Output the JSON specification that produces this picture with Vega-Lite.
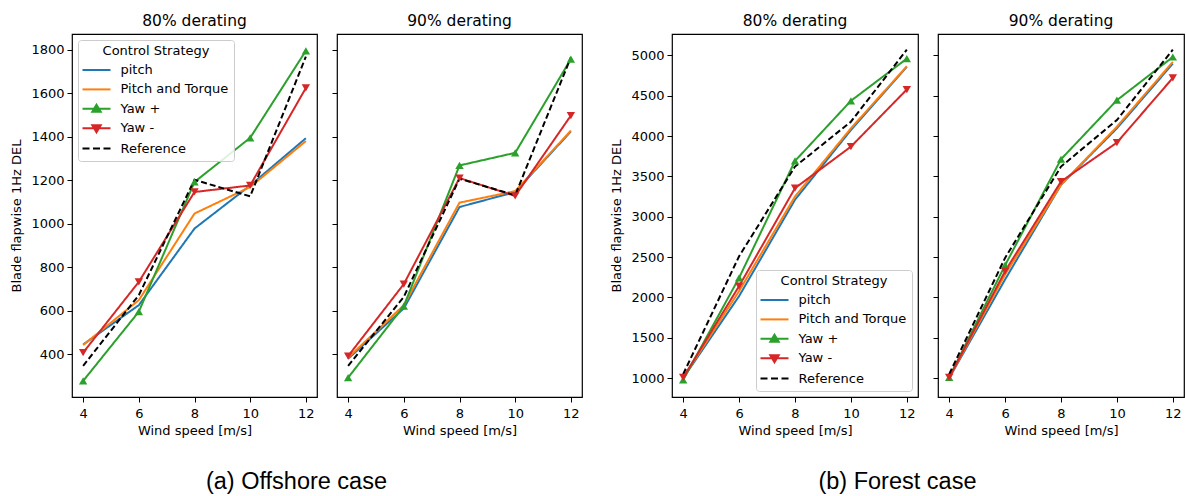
{
  "$schema": "https://vega.github.io/schema/vega-lite/v6.json",
  "padding": {"left": 10, "top": 13, "right": 0, "bottom": 0},
  "datasets": {
    "d": [
      {"case": "offshore", "derating": 80, "strategy": "pitch", "wind": 4, "del": 445},
      {"case": "offshore", "derating": 80, "strategy": "pitch", "wind": 6, "del": 626},
      {"case": "offshore", "derating": 80, "strategy": "pitch", "wind": 8, "del": 978},
      {"case": "offshore", "derating": 80, "strategy": "pitch", "wind": 10, "del": 1176},
      {"case": "offshore", "derating": 80, "strategy": "pitch", "wind": 12, "del": 1393},
      {"case": "offshore", "derating": 80, "strategy": "Pitch and Torque", "wind": 4, "del": 443},
      {"case": "offshore", "derating": 80, "strategy": "Pitch and Torque", "wind": 6, "del": 649},
      {"case": "offshore", "derating": 80, "strategy": "Pitch and Torque", "wind": 8, "del": 1047},
      {"case": "offshore", "derating": 80, "strategy": "Pitch and Torque", "wind": 10, "del": 1169},
      {"case": "offshore", "derating": 80, "strategy": "Pitch and Torque", "wind": 12, "del": 1380},
      {"case": "offshore", "derating": 80, "strategy": "Yaw +", "wind": 4, "del": 278},
      {"case": "offshore", "derating": 80, "strategy": "Yaw +", "wind": 6, "del": 596},
      {"case": "offshore", "derating": 80, "strategy": "Yaw +", "wind": 8, "del": 1192},
      {"case": "offshore", "derating": 80, "strategy": "Yaw +", "wind": 10, "del": 1395},
      {"case": "offshore", "derating": 80, "strategy": "Yaw +", "wind": 12, "del": 1795},
      {"case": "offshore", "derating": 80, "strategy": "Yaw -", "wind": 4, "del": 408},
      {"case": "offshore", "derating": 80, "strategy": "Yaw -", "wind": 6, "del": 733},
      {"case": "offshore", "derating": 80, "strategy": "Yaw -", "wind": 8, "del": 1146},
      {"case": "offshore", "derating": 80, "strategy": "Yaw -", "wind": 10, "del": 1176},
      {"case": "offshore", "derating": 80, "strategy": "Yaw -", "wind": 12, "del": 1624},
      {"case": "offshore", "derating": 80, "strategy": "Reference", "wind": 4, "del": 347},
      {"case": "offshore", "derating": 80, "strategy": "Reference", "wind": 6, "del": 672},
      {"case": "offshore", "derating": 80, "strategy": "Reference", "wind": 8, "del": 1202},
      {"case": "offshore", "derating": 80, "strategy": "Reference", "wind": 10, "del": 1126},
      {"case": "offshore", "derating": 80, "strategy": "Reference", "wind": 12, "del": 1768},

      {"case": "offshore", "derating": 90, "strategy": "pitch", "wind": 4, "del": 380},
      {"case": "offshore", "derating": 90, "strategy": "pitch", "wind": 6, "del": 611},
      {"case": "offshore", "derating": 90, "strategy": "pitch", "wind": 8, "del": 1077},
      {"case": "offshore", "derating": 90, "strategy": "pitch", "wind": 10, "del": 1146},
      {"case": "offshore", "derating": 90, "strategy": "pitch", "wind": 12, "del": 1424},
      {"case": "offshore", "derating": 90, "strategy": "Pitch and Torque", "wind": 4, "del": 385},
      {"case": "offshore", "derating": 90, "strategy": "Pitch and Torque", "wind": 6, "del": 626},
      {"case": "offshore", "derating": 90, "strategy": "Pitch and Torque", "wind": 8, "del": 1097},
      {"case": "offshore", "derating": 90, "strategy": "Pitch and Torque", "wind": 10, "del": 1150},
      {"case": "offshore", "derating": 90, "strategy": "Pitch and Torque", "wind": 12, "del": 1428},
      {"case": "offshore", "derating": 90, "strategy": "Yaw +", "wind": 4, "del": 293},
      {"case": "offshore", "derating": 90, "strategy": "Yaw +", "wind": 6, "del": 622},
      {"case": "offshore", "derating": 90, "strategy": "Yaw +", "wind": 8, "del": 1268},
      {"case": "offshore", "derating": 90, "strategy": "Yaw +", "wind": 10, "del": 1326},
      {"case": "offshore", "derating": 90, "strategy": "Yaw +", "wind": 12, "del": 1757},
      {"case": "offshore", "derating": 90, "strategy": "Yaw -", "wind": 4, "del": 392},
      {"case": "offshore", "derating": 90, "strategy": "Yaw -", "wind": 6, "del": 723},
      {"case": "offshore", "derating": 90, "strategy": "Yaw -", "wind": 8, "del": 1210},
      {"case": "offshore", "derating": 90, "strategy": "Yaw -", "wind": 10, "del": 1128},
      {"case": "offshore", "derating": 90, "strategy": "Yaw -", "wind": 12, "del": 1497},
      {"case": "offshore", "derating": 90, "strategy": "Reference", "wind": 4, "del": 347},
      {"case": "offshore", "derating": 90, "strategy": "Reference", "wind": 6, "del": 664},
      {"case": "offshore", "derating": 90, "strategy": "Reference", "wind": 8, "del": 1207},
      {"case": "offshore", "derating": 90, "strategy": "Reference", "wind": 10, "del": 1131},
      {"case": "offshore", "derating": 90, "strategy": "Reference", "wind": 12, "del": 1765},

      {"case": "forest", "derating": 80, "strategy": "pitch", "wind": 4, "del": 1000},
      {"case": "forest", "derating": 80, "strategy": "pitch", "wind": 6, "del": 2016},
      {"case": "forest", "derating": 80, "strategy": "pitch", "wind": 8, "del": 3210},
      {"case": "forest", "derating": 80, "strategy": "pitch", "wind": 10, "del": 4074},
      {"case": "forest", "derating": 80, "strategy": "pitch", "wind": 12, "del": 4856},
      {"case": "forest", "derating": 80, "strategy": "Pitch and Torque", "wind": 4, "del": 1005},
      {"case": "forest", "derating": 80, "strategy": "Pitch and Torque", "wind": 6, "del": 2078},
      {"case": "forest", "derating": 80, "strategy": "Pitch and Torque", "wind": 8, "del": 3251},
      {"case": "forest", "derating": 80, "strategy": "Pitch and Torque", "wind": 10, "del": 4095},
      {"case": "forest", "derating": 80, "strategy": "Pitch and Torque", "wind": 12, "del": 4864},
      {"case": "forest", "derating": 80, "strategy": "Yaw +", "wind": 4, "del": 979},
      {"case": "forest", "derating": 80, "strategy": "Yaw +", "wind": 6, "del": 2243},
      {"case": "forest", "derating": 80, "strategy": "Yaw +", "wind": 8, "del": 3691},
      {"case": "forest", "derating": 80, "strategy": "Yaw +", "wind": 10, "del": 4436},
      {"case": "forest", "derating": 80, "strategy": "Yaw +", "wind": 12, "del": 4959},
      {"case": "forest", "derating": 80, "strategy": "Yaw -", "wind": 4, "del": 1008},
      {"case": "forest", "derating": 80, "strategy": "Yaw -", "wind": 6, "del": 2140},
      {"case": "forest", "derating": 80, "strategy": "Yaw -", "wind": 8, "del": 3354},
      {"case": "forest", "derating": 80, "strategy": "Yaw -", "wind": 10, "del": 3868},
      {"case": "forest", "derating": 80, "strategy": "Yaw -", "wind": 12, "del": 4576},
      {"case": "forest", "derating": 80, "strategy": "Reference", "wind": 4, "del": 1049},
      {"case": "forest", "derating": 80, "strategy": "Reference", "wind": 6, "del": 2510},
      {"case": "forest", "derating": 80, "strategy": "Reference", "wind": 8, "del": 3621},
      {"case": "forest", "derating": 80, "strategy": "Reference", "wind": 10, "del": 4177},
      {"case": "forest", "derating": 80, "strategy": "Reference", "wind": 12, "del": 5070},

      {"case": "forest", "derating": 90, "strategy": "pitch", "wind": 4, "del": 1000},
      {"case": "forest", "derating": 90, "strategy": "pitch", "wind": 6, "del": 2222},
      {"case": "forest", "derating": 90, "strategy": "pitch", "wind": 8, "del": 3395},
      {"case": "forest", "derating": 90, "strategy": "pitch", "wind": 10, "del": 4095},
      {"case": "forest", "derating": 90, "strategy": "pitch", "wind": 12, "del": 4897},
      {"case": "forest", "derating": 90, "strategy": "Pitch and Torque", "wind": 4, "del": 1005},
      {"case": "forest", "derating": 90, "strategy": "Pitch and Torque", "wind": 6, "del": 2284},
      {"case": "forest", "derating": 90, "strategy": "Pitch and Torque", "wind": 8, "del": 3395},
      {"case": "forest", "derating": 90, "strategy": "Pitch and Torque", "wind": 10, "del": 4115},
      {"case": "forest", "derating": 90, "strategy": "Pitch and Torque", "wind": 12, "del": 4918},
      {"case": "forest", "derating": 90, "strategy": "Yaw +", "wind": 4, "del": 1008},
      {"case": "forest", "derating": 90, "strategy": "Yaw +", "wind": 6, "del": 2399},
      {"case": "forest", "derating": 90, "strategy": "Yaw +", "wind": 8, "del": 3712},
      {"case": "forest", "derating": 90, "strategy": "Yaw +", "wind": 10, "del": 4444},
      {"case": "forest", "derating": 90, "strategy": "Yaw +", "wind": 12, "del": 4979},
      {"case": "forest", "derating": 90, "strategy": "Yaw -", "wind": 4, "del": 1008},
      {"case": "forest", "derating": 90, "strategy": "Yaw -", "wind": 6, "del": 2325},
      {"case": "forest", "derating": 90, "strategy": "Yaw -", "wind": 8, "del": 3436},
      {"case": "forest", "derating": 90, "strategy": "Yaw -", "wind": 10, "del": 3918},
      {"case": "forest", "derating": 90, "strategy": "Yaw -", "wind": 12, "del": 4720},
      {"case": "forest", "derating": 90, "strategy": "Reference", "wind": 4, "del": 1049},
      {"case": "forest", "derating": 90, "strategy": "Reference", "wind": 6, "del": 2490},
      {"case": "forest", "derating": 90, "strategy": "Reference", "wind": 8, "del": 3621},
      {"case": "forest", "derating": 90, "strategy": "Reference", "wind": 10, "del": 4198},
      {"case": "forest", "derating": 90, "strategy": "Reference", "wind": 12, "del": 5070}
    ]
  },
  "spacing": 27,
  "resolve": {"scale": {"x": "independent", "y": "independent"}, "legend": {"color": "independent"}},
  "hconcat": [
    {
      "spacing": 12,
      "title": {"text": "(a) Offshore case", "orient": "bottom", "anchor": "middle", "frame": "bounds", "font": "Liberation Sans", "fontSize": 23.5, "fontWeight": "normal", "color": "black", "offset": 32},
      "resolve": {"scale": {"x": "independent", "y": "independent"}, "legend": {"color": "independent"}},
      "hconcat": [
        {
          "width": 245, "height": 363,
          "title": "80% derating",
          "data": {"name": "d"},
          "transform": [{"filter": "datum.case === 'offshore' && datum.derating === 80"}],
          "encoding": {
            "x": {"field": "wind", "type": "quantitative", "scale": {"domain": [3.6, 12.4], "nice": false, "zero": false}, "axis": {"values": [4, 6, 8, 10, 12], "title": "Wind speed [m/s]"}},
            "y": {"field": "del", "type": "quantitative", "scale": {"domain": [204, 1872], "nice": false, "zero": false}, "axis": {"values": [400, 600, 800, 1000, 1200, 1400, 1600, 1800], "format": "d", "title": "Blade flapwise 1Hz DEL"}},
            "color": {"field": "strategy", "type": "nominal",
              "scale": {"domain": ["pitch", "Pitch and Torque", "Yaw +", "Yaw -", "Reference"], "range": ["#1f77b4", "#ff7f0e", "#2ca02c", "#d62728", "#000000"]},
              "legend": {"title": "Control Strategy", "orient": "top-left", "offset": 6, "padding": 5, "fillColor": "rgba(255,255,255,0.85)", "strokeColor": "#cccccc", "cornerRadius": 3, "titleAnchor": "middle", "titleFontWeight": "normal", "titleFontSize": 13, "labelFontSize": 13, "symbolSize": 400, "symbolOffset": 2.5, "labelOffset": 13, "rowPadding": 1.4, "titlePadding": 1,
                "encode": {"symbols": {"update": {
                  "shape": {"signal": "datum.value === 'Yaw +' ? 'M-1.4,0H1.4M0,-0.4L0.42,0.3H-0.42Z' : datum.value === 'Yaw -' ? 'M-1.4,0H1.4M0,0.4L0.42,-0.3H-0.42Z' : datum.value === 'Reference' ? 'M-1.4,0H-0.7M-0.35,0H0.35M0.7,0H1.4' : 'M-1.4,0H1.4'"},
                  "fill": {"signal": "datum.value === 'Yaw +' ? '#2ca02c' : datum.value === 'Yaw -' ? '#d62728' : 'transparent'"},
                  "stroke": {"signal": "datum.value === 'pitch' ? '#1f77b4' : datum.value === 'Pitch and Torque' ? '#ff7f0e' : datum.value === 'Yaw +' ? '#2ca02c' : datum.value === 'Yaw -' ? '#d62728' : '#000000'"},
                  "strokeWidth": {"value": 2},
                  "opacity": {"value": 1}
                }}}}}
          },
          "layer": [
            {"mark": {"type": "line", "strokeWidth": 2}, "encoding": {"strokeDash": {"field": "strategy", "type": "nominal", "scale": {"domain": ["pitch", "Pitch and Torque", "Yaw +", "Yaw -", "Reference"], "range": [[1, 0], [1, 0], [1, 0], [1, 0], [6, 3]]}, "legend": null}}},
            {"transform": [{"filter": "datum.strategy === 'Yaw +' || datum.strategy === 'Yaw -'"}], "mark": {"type": "point", "filled": true, "size": 70, "opacity": 1}, "encoding": {"shape": {"field": "strategy", "type": "nominal", "scale": {"domain": ["Yaw +", "Yaw -"], "range": ["triangle-up", "triangle-down"]}, "legend": null}}}
          ]
        },
        {
          "width": 245, "height": 363,
          "title": "90% derating",
          "data": {"name": "d"},
          "transform": [{"filter": "datum.case === 'offshore' && datum.derating === 90"}],
          "encoding": {
            "x": {"field": "wind", "type": "quantitative", "scale": {"domain": [3.6, 12.4], "nice": false, "zero": false}, "axis": {"values": [4, 6, 8, 10, 12], "title": "Wind speed [m/s]"}},
            "y": {"field": "del", "type": "quantitative", "scale": {"domain": [204, 1872], "nice": false, "zero": false}, "axis": {"values": [400, 600, 800, 1000, 1200, 1400, 1600, 1800], "labels": false, "title": null}},
            "color": {"field": "strategy", "type": "nominal",
              "scale": {"domain": ["pitch", "Pitch and Torque", "Yaw +", "Yaw -", "Reference"], "range": ["#1f77b4", "#ff7f0e", "#2ca02c", "#d62728", "#000000"]},
              "legend": null}
          },
          "layer": [
            {"mark": {"type": "line", "strokeWidth": 2}, "encoding": {"strokeDash": {"field": "strategy", "type": "nominal", "scale": {"domain": ["pitch", "Pitch and Torque", "Yaw +", "Yaw -", "Reference"], "range": [[1, 0], [1, 0], [1, 0], [1, 0], [6, 3]]}, "legend": null}}},
            {"transform": [{"filter": "datum.strategy === 'Yaw +' || datum.strategy === 'Yaw -'"}], "mark": {"type": "point", "filled": true, "size": 70, "opacity": 1}, "encoding": {"shape": {"field": "strategy", "type": "nominal", "scale": {"domain": ["Yaw +", "Yaw -"], "range": ["triangle-up", "triangle-down"]}, "legend": null}}}
          ]
        }
      ]
    },
    {
      "spacing": 12,
      "title": {"text": "(b) Forest case", "orient": "bottom", "anchor": "middle", "frame": "bounds", "font": "Liberation Sans", "fontSize": 23.5, "fontWeight": "normal", "color": "black", "offset": 32},
      "resolve": {"scale": {"x": "independent", "y": "independent"}, "legend": {"color": "independent"}},
      "hconcat": [
        {
          "width": 246, "height": 363,
          "title": "80% derating",
          "data": {"name": "d"},
          "transform": [{"filter": "datum.case === 'forest' && datum.derating === 80"}],
          "encoding": {
            "x": {"field": "wind", "type": "quantitative", "scale": {"domain": [3.6, 12.4], "nice": false, "zero": false}, "axis": {"values": [4, 6, 8, 10, 12], "title": "Wind speed [m/s]"}},
            "y": {"field": "del", "type": "quantitative", "scale": {"domain": [766, 5264], "nice": false, "zero": false}, "axis": {"values": [1000, 1500, 2000, 2500, 3000, 3500, 4000, 4500, 5000], "format": "d", "title": "Blade flapwise 1Hz DEL"}},
            "color": {"field": "strategy", "type": "nominal",
              "scale": {"domain": ["pitch", "Pitch and Torque", "Yaw +", "Yaw -", "Reference"], "range": ["#1f77b4", "#ff7f0e", "#2ca02c", "#d62728", "#000000"]},
              "legend": {"title": "Control Strategy", "orient": "bottom-right", "offset": 6, "padding": 5, "fillColor": "rgba(255,255,255,0.85)", "strokeColor": "#cccccc", "cornerRadius": 3, "titleAnchor": "middle", "titleFontWeight": "normal", "titleFontSize": 13, "labelFontSize": 13, "symbolSize": 400, "symbolOffset": 2.5, "labelOffset": 13, "rowPadding": 1.4, "titlePadding": 1,
                "encode": {"symbols": {"update": {
                  "shape": {"signal": "datum.value === 'Yaw +' ? 'M-1.4,0H1.4M0,-0.4L0.42,0.3H-0.42Z' : datum.value === 'Yaw -' ? 'M-1.4,0H1.4M0,0.4L0.42,-0.3H-0.42Z' : datum.value === 'Reference' ? 'M-1.4,0H-0.7M-0.35,0H0.35M0.7,0H1.4' : 'M-1.4,0H1.4'"},
                  "fill": {"signal": "datum.value === 'Yaw +' ? '#2ca02c' : datum.value === 'Yaw -' ? '#d62728' : 'transparent'"},
                  "stroke": {"signal": "datum.value === 'pitch' ? '#1f77b4' : datum.value === 'Pitch and Torque' ? '#ff7f0e' : datum.value === 'Yaw +' ? '#2ca02c' : datum.value === 'Yaw -' ? '#d62728' : '#000000'"},
                  "strokeWidth": {"value": 2},
                  "opacity": {"value": 1}
                }}}}}
          },
          "layer": [
            {"mark": {"type": "line", "strokeWidth": 2}, "encoding": {"strokeDash": {"field": "strategy", "type": "nominal", "scale": {"domain": ["pitch", "Pitch and Torque", "Yaw +", "Yaw -", "Reference"], "range": [[1, 0], [1, 0], [1, 0], [1, 0], [6, 3]]}, "legend": null}}},
            {"transform": [{"filter": "datum.strategy === 'Yaw +' || datum.strategy === 'Yaw -'"}], "mark": {"type": "point", "filled": true, "size": 70, "opacity": 1}, "encoding": {"shape": {"field": "strategy", "type": "nominal", "scale": {"domain": ["Yaw +", "Yaw -"], "range": ["triangle-up", "triangle-down"]}, "legend": null}}}
          ]
        },
        {
          "width": 246, "height": 363,
          "title": "90% derating",
          "data": {"name": "d"},
          "transform": [{"filter": "datum.case === 'forest' && datum.derating === 90"}],
          "encoding": {
            "x": {"field": "wind", "type": "quantitative", "scale": {"domain": [3.6, 12.4], "nice": false, "zero": false}, "axis": {"values": [4, 6, 8, 10, 12], "title": "Wind speed [m/s]"}},
            "y": {"field": "del", "type": "quantitative", "scale": {"domain": [766, 5264], "nice": false, "zero": false}, "axis": {"values": [1000, 1500, 2000, 2500, 3000, 3500, 4000, 4500, 5000], "labels": false, "title": null}},
            "color": {"field": "strategy", "type": "nominal",
              "scale": {"domain": ["pitch", "Pitch and Torque", "Yaw +", "Yaw -", "Reference"], "range": ["#1f77b4", "#ff7f0e", "#2ca02c", "#d62728", "#000000"]},
              "legend": null}
          },
          "layer": [
            {"mark": {"type": "line", "strokeWidth": 2}, "encoding": {"strokeDash": {"field": "strategy", "type": "nominal", "scale": {"domain": ["pitch", "Pitch and Torque", "Yaw +", "Yaw -", "Reference"], "range": [[1, 0], [1, 0], [1, 0], [1, 0], [6, 3]]}, "legend": null}}},
            {"transform": [{"filter": "datum.strategy === 'Yaw +' || datum.strategy === 'Yaw -'"}], "mark": {"type": "point", "filled": true, "size": 70, "opacity": 1}, "encoding": {"shape": {"field": "strategy", "type": "nominal", "scale": {"domain": ["Yaw +", "Yaw -"], "range": ["triangle-up", "triangle-down"]}, "legend": null}}}
          ]
        }
      ]
    }
  ],
  "config": {
    "font": "DejaVu Sans",
    "view": {"stroke": "black", "strokeWidth": 1.2},
    "axis": {"grid": false, "domain": false, "tickColor": "black", "tickSize": 5, "tickWidth": 1, "labelFontSize": 13, "labelColor": "black", "titleFontSize": 13, "titleFontWeight": "normal", "titleColor": "black", "labelFont": "DejaVu Sans", "titleFont": "DejaVu Sans"},
    "axisY": {"titlePadding": 7, "labelPadding": 3},
    "axisX": {"titlePadding": 4, "labelPadding": 5},
    "title": {"fontSize": 15.5, "fontWeight": "normal", "font": "DejaVu Sans", "color": "black", "offset": 4.5},
    "legend": {"labelFont": "DejaVu Sans", "titleFont": "DejaVu Sans", "labelColor": "black", "titleColor": "black"}
  }
}
